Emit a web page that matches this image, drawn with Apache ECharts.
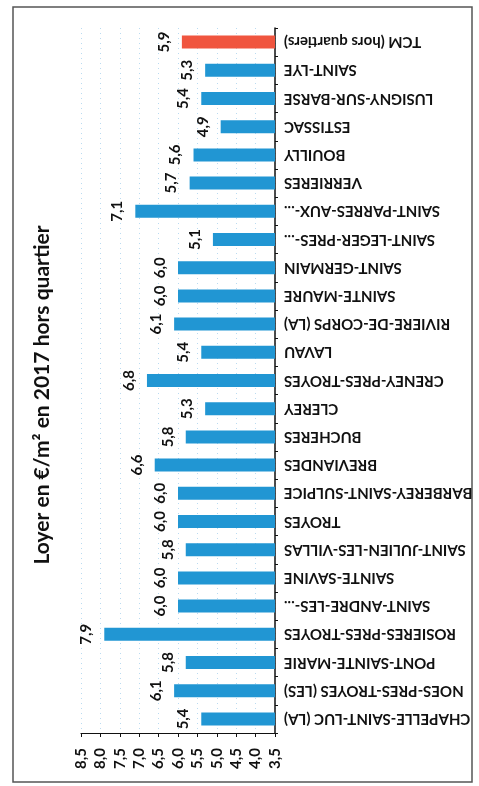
<!DOCTYPE html>
<html>
<head>
<meta charset="utf-8">
<script src="https://cdn.jsdelivr.net/npm/echarts@6/dist/echarts.min.js"></script>
<style>
  html, body { margin: 0; padding: 0; background: #fff; }
  #chart { width: 479px; height: 786px; }
</style>
</head>
<body>
<div id="chart"></div>
<script>
// Loyer moyen par commune (€/m², 2017, hors quartiers prioritaires)
const communes = [
  'CHAPELLE-SAINT-LUC (LA)', 'NOES-PRES-TROYES (LES)', 'PONT-SAINTE-MARIE',
  'ROSIERES-PRES-TROYES', 'SAINT-ANDRE-LES-...', 'SAINTE-SAVINE',
  'SAINT-JULIEN-LES-VILLAS', 'TROYES', 'BARBEREY-SAINT-SULPICE', 'BREVIANDES',
  'BUCHERES', 'CLEREY', 'CRENEY-PRES-TROYES', 'LAVAU', 'RIVIERE-DE-CORPS (LA)',
  'SAINTE-MAURE', 'SAINT-GERMAIN', 'SAINT-LEGER-PRES-...', 'SAINT-PARRES-AUX-...',
  'VERRIERES', 'BOUILLY', 'ESTISSAC', 'LUSIGNY-SUR-BARSE', 'SAINT-LYE',
  'TCM (hors quartiers)'
];
const loyers = [
  5.4, 6.1, 5.8, 7.9, 6.0, 6.0, 5.8, 6.0, 6.0, 6.6,
  5.8, 5.3, 6.8, 5.4, 6.1, 6.0, 6.0, 5.1, 7.1, 5.7,
  5.6, 4.9, 5.4, 5.3, 5.9
];
const moyenneTerritoire = 'TCM (hors quartiers)';
const axisMin = 3.5;
const axisMax = 8.5;
const axisStep = 0.5;
const titre = 'Loyer en €/m² en 2017 hors quartier';

const BLUE = '#2196d3';
const RED = '#f0553f';
const FONT = 'Lato, "Open Sans", sans-serif';
const fr = v => v.toFixed(1).replace('.', ',');

const chart = echarts.init(document.getElementById('chart'), null, { renderer: 'canvas' });

chart.setOption({
  animation: false,
  backgroundColor: '#fff',
  grid: { left: 81, right: 204, top: 28, bottom: 53, containLabel: false, outerBoundsMode: 'none' },
  xAxis: {
    type: 'value',
    min: axisMin,
    max: axisMax,
    interval: axisStep,
    inverse: true,
    position: 'bottom',
    axisLine: { show: true, onZero: false, lineStyle: { color: '#111', width: 1.2 } },
    axisTick: { show: true, length: 4, lineStyle: { color: '#111' } },
    axisLabel: {
      rotate: 90,
      margin: 15,
      color: '#111',
      fontFamily: FONT,
      fontWeight: 'bold',
      fontSize: 15,
      formatter: v => fr(v)
    },
    splitLine: { show: true, lineStyle: { color: '#a9d2ee', type: [1, 4], width: 1, opacity: 0.8 } }
  },
  yAxis: {
    type: 'category',
    data: communes,
    position: 'right',
    axisLine: { show: true, onZero: false, lineStyle: { color: '#111', width: 1.5 } },
    axisTick: { show: true, length: 3, lineStyle: { color: '#111' } },
    axisLabel: {
      rotate: 180,
      margin: 9,
      color: '#111',
      fontFamily: FONT,
      fontWeight: 'bold',
      fontSize: 15
    },
    splitLine: { show: false }
  },
  series: [{
    type: 'bar',
    barWidth: 13,
    data: loyers.map((v, i) => ({
      value: v,
      itemStyle: { color: communes[i] === moyenneTerritoire ? RED : BLUE }
    })),
    label: {
      show: true,
      position: 'left',
      distance: 18,
      rotate: 90,
      align: 'center',
      verticalAlign: 'middle',
      color: '#111',
      fontFamily: FONT,
      fontWeight: 'bold',
      fontSize: 15,
      formatter: p => fr(p.value)
    }
  }],
  graphic: [
    {
      type: 'rect',
      shape: { x: 13, y: 7, width: 459, height: 775 },
      style: { fill: 'none', stroke: '#555', lineWidth: 1.5 },
      silent: true
    },
    {
      type: 'text',
      x: 42,
      y: 395,
      rotation: Math.PI / 2,
      style: {
        text: titre,
        fill: '#111',
        font: 'bold 21px ' + FONT,
        textAlign: 'center',
        textVerticalAlign: 'middle'
      },
      silent: true
    }
  ]
});
</script>
</body>
</html>
